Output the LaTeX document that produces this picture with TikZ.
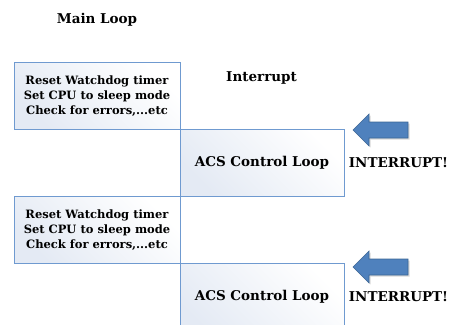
\documentclass[tikz,border=0pt]{standalone}
\usepackage{fontspec}
\setmainfont{DejaVu Serif}
\usetikzlibrary{positioning}
\definecolor{boxline}{HTML}{6F9AD0}
\definecolor{boxfill}{HTML}{E4EAF4}
\definecolor{arrfill}{HTML}{4F81BD}
\definecolor{arrline}{HTML}{3B6594}
\tikzset{
  x=1pt, y=-1pt,
  loopbox/.style={draw=boxline, line width=0.8pt, top color=white, bottom color=boxfill, shading angle=-45},
  smalltxt/.style={font=\bfseries\fontsize{11.5}{15}\selectfont, align=center, inner sep=0pt},
  bigtxt/.style={font=\bfseries\fontsize{13.5}{15}\selectfont, inner sep=0pt},
  blockarrow/.style={fill=arrfill, draw=arrline, line width=0.6pt, line join=miter},
  arrshadow/.style={fill=black, fill opacity=0.15, draw=none}
}
\newcommand{\leftarrowshape}[3]{% tip x, tip y, style
  \path[#3] (#1,#2) -- ++(16,-16) -- ++(0,8) -- ++(39,0) -- ++(0,16) -- ++(-39,0) -- ++(0,8) -- cycle;
}
\begin{document}
\begin{tikzpicture}
\useasboundingbox (0,0) rectangle (452,324);
\begin{scope}
\clip (0,0) rectangle (452,324);
\path[loopbox] (14,62) rectangle (180,129);
\path[loopbox] (180,129) rectangle (344,196);
\path[loopbox] (14,196) rectangle (180,263);
\path[loopbox] (180,263) rectangle (344,340);
\end{scope}

\node[bigtxt] (main) at (97,19.5) {Main Loop};
\node[bigtxt, anchor=west] (intr) at (226,77.5) {Interrupt};

\node[smalltxt] (reset1) at (97,96) {Reset Watchdog timer\\Set CPU to sleep mode\\Check for errors,...etc};
\node[smalltxt] (reset2) at (97,230) {Reset Watchdog timer\\Set CPU to sleep mode\\Check for errors,...etc};

\node[bigtxt] (acs1) at (262,163) {ACS Control Loop};
\node[bigtxt] (acs2) at (262,297) {ACS Control Loop};

\node[bigtxt] (int1) at (398.5,163) {INTERRUPT!};
\node[bigtxt] (int2) at (398.5,297) {INTERRUPT!};

\leftarrowshape{354.5}{131.5}{arrshadow}
\leftarrowshape{353}{130}{blockarrow}
\leftarrowshape{354.5}{268.5}{arrshadow}
\leftarrowshape{353}{267}{blockarrow}
\end{tikzpicture}
\end{document}
